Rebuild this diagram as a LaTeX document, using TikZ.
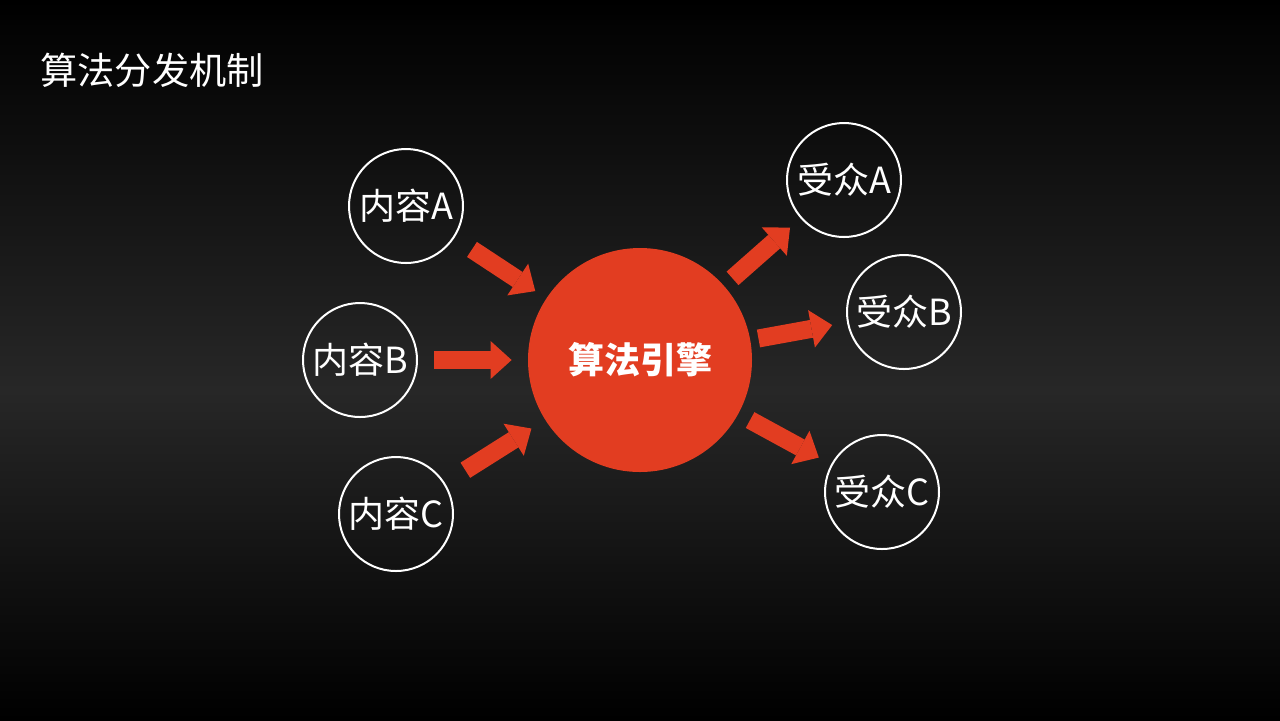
\documentclass[tikz,border=0pt]{standalone}
\usepackage{fontspec}
\setmainfont{Noto Sans CJK SC}
\usepackage{tikz}
\usetikzlibrary{arrows.meta}
\definecolor{engred}{HTML}{E23D21}
\definecolor{bggray}{HTML}{272727}

\begin{document}
\begin{tikzpicture}[x=0.5pt, y=-0.5pt,
  every node/.style={font=\fontsize{18pt}{22pt}\selectfont, text=white},
  ring/.style={circle, draw=white, line width=1pt, minimum size=57pt, inner sep=0pt},
  flow/.style={color=engred, line width=9pt, -{Triangle[width=19pt, length=10.5pt, fill=engred, line width=0pt]}}]
 \useasboundingbox (0,0) rectangle (1280,720);
 \shade[top color=black, bottom color=bggray] (0,0) rectangle (1280,390);
 \shade[top color=bggray, bottom color=black] (0,390) rectangle (1280,720);
 \node[anchor=west, inner sep=0pt, font=\fontsize{18.6pt}{22pt}\selectfont] (title) at (40,70) {算法分发机制};
 \node[circle, fill=engred, minimum size=112pt, inner sep=0pt, font=\fontsize{18pt}{22pt}\selectfont\bfseries] (engine) at (640,360) {算法引擎};
 \node[ring] (srcA) at (406,206) {内容A};
 \node[ring] (srcB) at (360,360) {内容B};
 \node[ring] (srcC) at (396,514) {内容C};
 \node[ring] (usrA) at (844,180) {受众A};
 \node[ring] (usrB) at (904,312) {受众B};
 \node[ring] (usrC) at (882,492) {受众C};
 \path[flow]
  (srcA) edge[shorten <=10.5pt, shorten >=6.5pt] (engine)
  (srcB) edge[shorten <=8pt, shorten >=8pt] (engine)
  (srcC) edge[shorten <=12pt, shorten >=8pt] (engine)
  (engine) edge[shorten <=5.5pt, shorten >=7pt] (usrA)
  (engine) edge[shorten <=4pt, shorten >=7.5pt] (usrB)
  (engine) edge[shorten <=6.5pt, shorten >=7pt] (usrC)
 ;
\end{tikzpicture}
\end{document}
